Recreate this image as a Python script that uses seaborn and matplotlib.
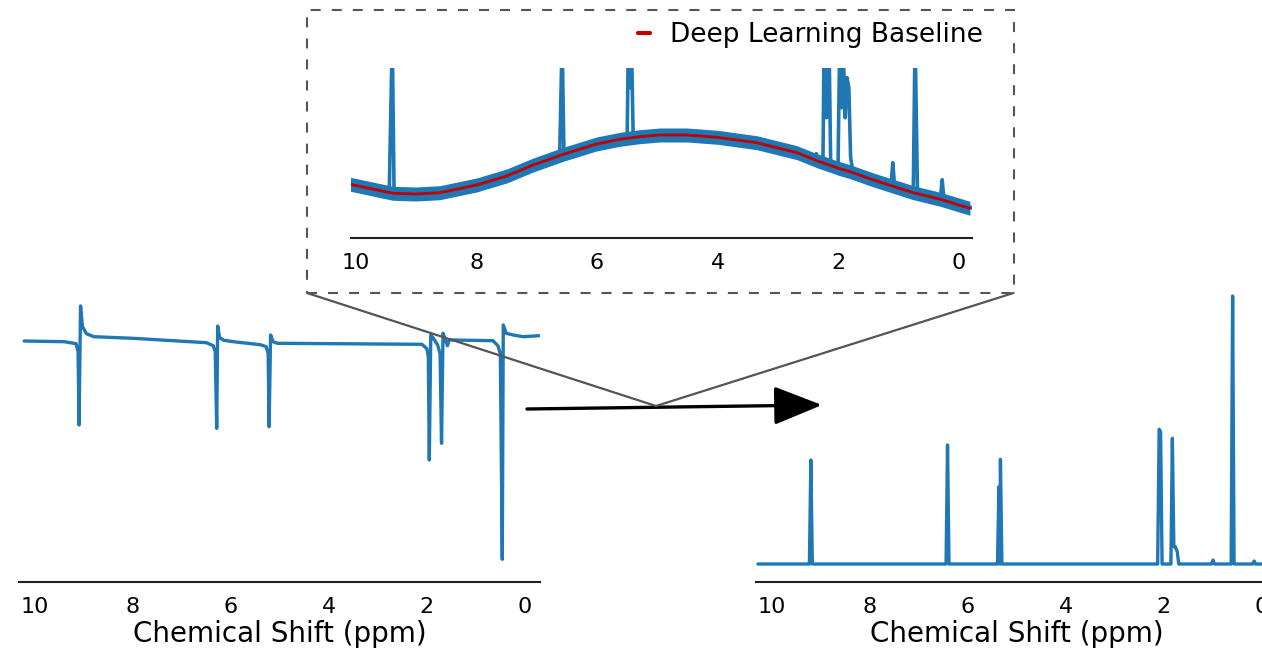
import numpy as np
import pandas as pd
import matplotlib
matplotlib.use("Agg")
import matplotlib.pyplot as plt
import seaborn as sns
from matplotlib.patches import FancyArrowPatch, Rectangle
from matplotlib.lines import Line2D

# --- 1. DATA (ppm, intensity in arbitrary units) ---
# raw spectrum, phase distorted (left)
raw_ppm = [10.22, 9.40, 9.16, 9.12, 9.10, 9.07, 9.03, 8.95, 8.80, 8.00, 6.50, 6.36, 6.32,
           6.29, 6.27, 6.23, 6.15, 5.95, 5.40, 5.28, 5.24, 5.22, 5.19, 5.14, 5.05, 2.10,
           2.00, 1.97, 1.95, 1.92, 1.87, 1.78, 1.73, 1.70, 1.67, 1.62, 1.58, 1.54, 1.46,
           0.65, 0.55, 0.50, 0.46, 0.44, 0.38, 0.24, 0.03, -0.29]
raw_int = [240.7, 240.0, 238.0, 230.0, 156.7, 275.7, 255.0, 248.0, 245.0, 243.4, 239.0, 236.0, 230.0,
           153.4, 255.7, 244.0, 241.5, 240.0, 237.0, 235.0, 228.0, 155.0, 246.7, 240.0, 238.4, 237.4,
           233.0, 225.0, 121.7, 246.7, 243.7, 236.7, 228.0, 138.4, 248.4, 242.0, 236.0, 242.0, 241.7,
           241.0, 236.0, 228.0, 22.4, 256.7, 248.4, 246.7, 245.0, 246.0]

# zoom-in spectrum with its baseline (inset)
zoom_ppm = [10.12, 9.70, 9.45, 9.40, 9.37, 9.00, 8.60, 8.00, 7.50, 7.05, 6.62, 6.58, 6.55,
            6.00, 5.62, 5.50, 5.48, 5.45, 5.43, 5.40, 4.95, 4.51, 4.00, 3.35, 2.68, 2.40,
            2.36, 2.32, 2.25, 2.23, 2.19, 2.15, 2.12, 2.00, 1.97, 1.94, 1.92, 1.88, 1.85,
            1.82, 1.79, 1.75, 1.41, 1.12, 1.09, 1.06, 0.75, 0.72, 0.68, 0.30, 0.27, 0.24, -0.28]
zoom_int = [55, 50, 46, 200, 46, 44, 45, 53, 62, 73, 82, 200, 84,
            94, 98, 100, 200, 150, 200, 100, 103, 103, 100, 95, 85, 76,
            84, 76, 72, 200, 120, 200, 70, 69, 200, 130, 200, 120, 160,
            150, 80, 65, 58, 52, 75, 51, 46, 200, 45, 39, 58, 38, 29]
noise_halfwidth = 7

base_ppm = [10.12, 9.39, 9.00, 8.61, 8.00, 7.50, 7.06, 6.56, 6.01, 5.62, 5.29, 4.96,
            4.51, 4.00, 3.35, 2.68, 2.35, 1.99, 1.80, 1.41, 0.75, 0.30, -0.19]
base_int = [53.7, 44.4, 43.7, 45.0, 52.7, 61.7, 72.7, 83.4, 93.7, 98.4, 101.0, 102.7,
            102.7, 100.4, 95.0, 85.0, 77.0, 69.4, 66.0, 57.7, 45.0, 38.4, 29.4]

# corrected spectrum (right)
corr_ppm = [10.28, 9.60, 9.23, 9.20, 9.17, 6.44, 6.41, 6.38, 5.39, 5.36, 5.34, 5.33,
            5.30, 2.12, 2.09, 2.06, 2.03, 1.85, 1.82, 1.79, 1.76, 1.72, 1.69, 1.02, 0.99,
            0.96, 0.62, 0.59, 0.56, 0.18, 0.15, 0.12, -0.35]
corr_int = [17.7, 17.7, 17.7, 121.7, 17.7, 17.7, 136.7, 17.7, 17.7, 95.0, 17.7, 122.4,
            17.7, 17.7, 152.4, 150.0, 17.7, 17.7, 143.4, 35.0, 35.0, 30.0, 17.7, 17.7, 21.7,
            17.7, 17.7, 285.7, 17.7, 17.7, 20.7, 17.7, 17.7]

xticks = [10, 8, 6, 4, 2, 0]
blue = '#1f77b4'
red = '#c00000'

# --- 2. FIGURE SETUP ---
sns.set_style("white")
plt.rcParams['font.family'] = ['DejaVu Sans']
plt.rcParams['text.color'] = 'black'
plt.rcParams['axes.labelcolor'] = 'black'
plt.rcParams['xtick.color'] = 'black'
plt.rcParams['xtick.major.size'] = 5
plt.rcParams['xtick.major.width'] = 1.2
W, H = 1262, 651
fig = plt.figure(figsize=(W / 100, H / 100), dpi=100)


def px(x0, y_top, x1, y_bot):
    return [x0 / W, 1 - y_bot / H, (x1 - x0) / W, (y_bot - y_top) / H]


ax_raw = fig.add_axes(px(19.3, 291.7, 540, 581.7))
ax_cor = fig.add_axes(px(756, 291.7, 1276.7, 581.7))
ax_zoom = fig.add_axes(px(350.7, 67.7, 971.7, 237.7))

raw_df = pd.DataFrame({'ppm': raw_ppm, 'intensity': raw_int})
corr_df = pd.DataFrame({'ppm': corr_ppm, 'intensity': corr_int})
zoom_df = pd.DataFrame({'ppm': zoom_ppm, 'intensity': zoom_int})
base_df = pd.DataFrame({'ppm': base_ppm, 'intensity': base_int})

# --- 3. SPECTRA ---
sns.lineplot(data=raw_df, x='ppm', y='intensity', ax=ax_raw, color=blue, lw=2.4,
             sort=False, estimator=None)
sns.lineplot(data=corr_df, x='ppm', y='intensity', ax=ax_cor, color=blue, lw=2.4,
             sort=False, estimator=None)

base_lo = [v - noise_halfwidth for v in base_int]
base_hi = [v + noise_halfwidth for v in base_int]
ax_zoom.fill_between(base_ppm, base_lo, base_hi, color=blue, lw=0)
sns.lineplot(data=zoom_df, x='ppm', y='intensity', ax=ax_zoom, color=blue, lw=2.6,
             sort=False, estimator=None)
sns.lineplot(data=base_df, x='ppm', y='intensity', ax=ax_zoom, color=red, lw=2,
             sort=False, estimator=None, label='Deep Learning Baseline')

for ax, xl, yl in [(ax_raw, (10.32, -0.31), (0, 290)),
                   (ax_cor, (10.32, -0.31), (0, 290)),
                   (ax_zoom, (10.09, -0.22), (0, 170))]:
    ax.set_xlim(*xl)
    ax.set_ylim(*yl)
    ax.set_xticks(xticks)
    ax.set_yticks([])
    ax.set_ylabel('')
    ax.tick_params(axis='x', labelsize=16, pad=6)
    ax.patch.set_alpha(0)
    sns.despine(ax=ax, left=True)
    ax.spines['bottom'].set_linewidth(1.5)
    ax.spines['bottom'].set_color('#222222')

ax_raw.set_xlabel('Chemical Shift (ppm)', fontsize=20, labelpad=2)
ax_cor.set_xlabel('Chemical Shift (ppm)', fontsize=20, labelpad=2)
ax_zoom.set_xlabel('')

leg = ax_zoom.legend(loc='upper right', bbox_to_anchor=(983 / W, 1 - 22 / H),
                     bbox_transform=fig.transFigure, frameon=False, fontsize=19,
                     handlelength=0.45, handletextpad=0.75, borderpad=0, borderaxespad=0)
for h in leg.get_lines():
    h.set_linewidth(3)

# --- 4. ANNOTATIONS: dashed zoom box, connectors and arrow ---
box = Rectangle((307 / W, 1 - 293 / H), (1013.5 - 307) / W, (293 - 10) / H,
                transform=fig.transFigure, fill=False, ec='#555555', lw=1.5,
                ls=(0, (4.8, 5.3)))
fig.add_artist(box)
for xc in (307, 1013.5):
    fig.add_artist(Line2D([xc / W, 656 / W], [1 - 293 / H, 1 - 406 / H],
                          transform=fig.transFigure, color='#555555', lw=1.6))
arrow = FancyArrowPatch((527 / W, 1 - 409 / H), (822 / W, 1 - 405 / H),
                        transform=fig.transFigure, color='black', lw=2.4,
                        arrowstyle='-|>,head_length=1.5,head_width=0.6',
                        mutation_scale=20, shrinkA=0, shrinkB=0)
fig.add_artist(arrow)

# --- 5. SAVE ---
fig.savefig('out.png', dpi=100)
